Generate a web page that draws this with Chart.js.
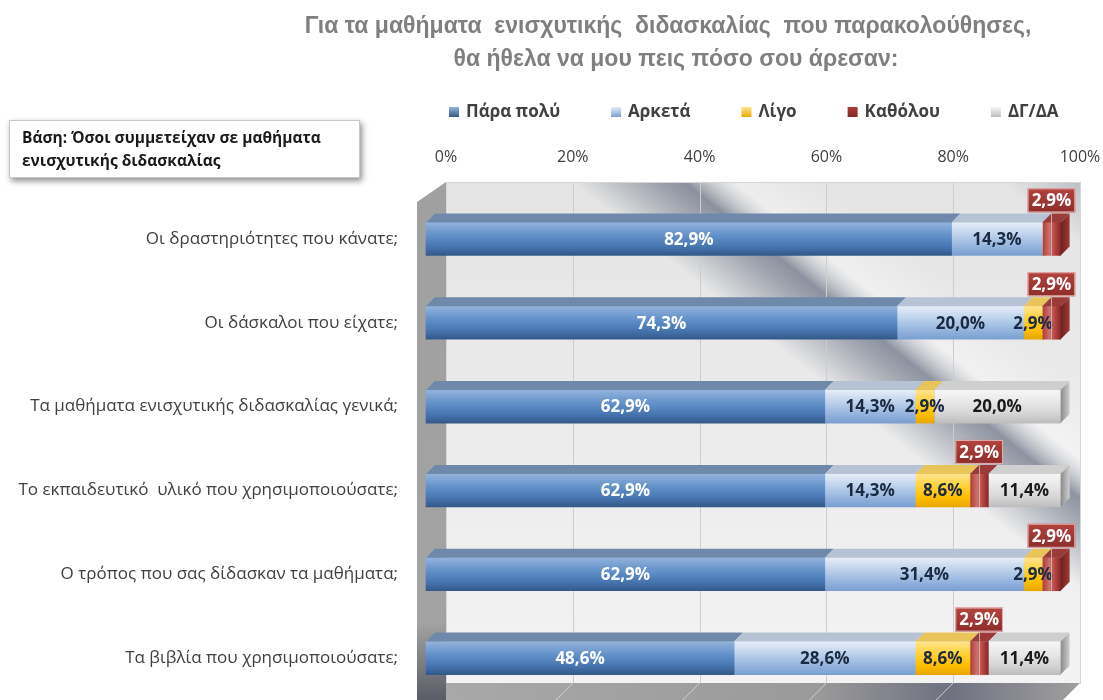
<!DOCTYPE html>
<html><head><meta charset="utf-8">
<script src="https://cdn.jsdelivr.net/npm/chart.js@4.4.1/dist/chart.umd.min.js"></script>
<style>html,body{margin:0;padding:0;background:#fff;}#wrap{position:relative;width:1103px;height:700px;}</style>
</head><body><div id="wrap"><canvas id="c" width="1103" height="700"></canvas></div>
<script>
const categories = [
  'Οι δραστηριότητες που κάνατε;',
  'Οι δάσκαλοι που είχατε;',
  'Τα μαθήματα ενισχυτικής διδασκαλίας γενικά;',
  'Το εκπαιδευτικό  υλικό που χρησιμοποιούσατε;',
  'Ο τρόπος που σας δίδασκαν τα μαθήματα;',
  'Τα βιβλία που χρησιμοποιούσατε;'
];
const seriesNames = ['Πάρα πολύ', 'Αρκετά', 'Λίγο', 'Καθόλου', 'ΔΓ/ΔΑ'];
const veryMuch = [82.9, 74.3, 62.9, 62.9, 62.9, 48.6];
const enough   = [14.3, 20.0, 14.3, 14.3, 31.4, 28.6];
const little   = [0, 2.9, 2.9, 8.6, 2.9, 8.6];
const notAtAll = [2.9, 2.9, 0, 2.9, 2.9, 2.9];
const dkna     = [0, 0, 20.0, 11.4, 0, 11.4];
const xTicks = [0, 20, 40, 60, 80, 100];
const titleLines = ['Για τα μαθήματα  ενισχυτικής  διδασκαλίας  που παρακολούθησες,', 'θα ήθελα να μου πεις πόσο σου άρεσαν:'];
const baseNote = ['Βάση: Όσοι συμμετείχαν σε μαθήματα', 'ενισχυτικής διδασκαλίας'];

const seriesValues = [veryMuch, enough, little, notAtAll, dkna];
const DEPTH = 9;      // bar 3D depth
const WALL = 20;      // back wall offset
const BAR_H = 33;
const FONT = "'Open Sans', 'Noto Sans', sans-serif";

const palettes = [
  {stops:['#93b3dc','#6290c9','#4a78b4','#34598a'], top:'#6f89ab', side:'#3a5f8f', text:'#ffffff'},
  {stops:['#e6eef8','#b9cfea','#97b6df','#7a9fd0'], top:'#b5c3d4', side:'#7a9fd0', text:'#1a2a40'},
  {stops:['#ffe48f','#ffcf33','#ffc000','#e9a800'], top:'#e9c45a', side:'#d09a00', text:'#1a2a40'},
  {stops:['#a83c39','#d2706c','#b5443f','#86282a'], top:'#9c3a37', side:'#6e1f1e', text:'#ffffff'},
  {stops:['#f6f6f6','#e6e6e6','#d6d6d6','#bdbdbd'], top:'#cfcfcf', side:'#8a8a8a', text:'#1a1a1a'}
];

function fmt(v){ return v.toFixed(1).replace('.', ',') + '%'; }

function makeBg(si){
  return function(ctx){
    const fallback = palettes[si].stops[2];
    const chart = ctx.chart;
    const ys = chart.scales && chart.scales.y, xs = chart.scales && chart.scales.x;
    if (!ys || !xs || typeof ctx.dataIndex !== 'number') return fallback;
    const yc = ys.getPixelForValue(ctx.dataIndex);
    if (!isFinite(yc)) return fallback;
    const c = chart.ctx;
    let g;
    if (si === 3) {
      let start = 0;
      for (let k = 0; k < si; k++) start += seriesValues[k][ctx.dataIndex];
      const x0 = xs.getPixelForValue(start), x1 = xs.getPixelForValue(start + seriesValues[si][ctx.dataIndex]);
      if (!isFinite(x0) || !isFinite(x1)) return fallback;
      g = c.createLinearGradient(x0, 0, x1 + 0.01, 0);
    } else {
      g = c.createLinearGradient(0, yc - BAR_H/2, 0, yc + BAR_H/2);
    }
    const s = palettes[si].stops;
    g.addColorStop(0, s[0]); g.addColorStop(0.4, s[1]); g.addColorStop(0.7, s[2]); g.addColorStop(1, s[3]);
    return g;
  };
}

const decor = {
  id: 'decor',
  beforeDatasetsDraw(chart){
    const c = chart.ctx, xs = chart.scales.x;
    const bx0 = xs.getPixelForValue(0) + WALL, bx1 = xs.getPixelForValue(100) + WALL;
    const by0 = 182, by1 = 683;
    c.save();
    let g = c.createLinearGradient(bx0, by0, bx0, by1);
    g.addColorStop(0, '#e4e4e4'); g.addColorStop(1, '#f3f3f3');
    c.fillStyle = g; c.fillRect(bx0, by0, bx1 - bx0, by1 - by0);
    g = c.createLinearGradient(600, 500, 1000, 0);
    g.addColorStop(0, 'rgba(90,100,120,0)');
    g.addColorStop(0.36, 'rgba(90,100,120,0)');
    g.addColorStop(0.44, 'rgba(90,100,120,0.5)');
    g.addColorStop(0.47, 'rgba(90,100,120,0.65)');
    g.addColorStop(0.52, 'rgba(255,255,255,0.35)');
    g.addColorStop(0.6, 'rgba(255,255,255,0)');
    g.addColorStop(0.78, 'rgba(90,100,120,0)');
    g.addColorStop(0.86, 'rgba(90,100,120,0.3)');
    g.addColorStop(0.95, 'rgba(90,100,120,0)');
    c.fillStyle = g; c.fillRect(bx0, by0, bx1 - bx0, by1 - by0);
    c.strokeStyle = '#cdcdcd'; c.lineWidth = 1;
    xTicks.forEach(v => {
      if (v === 0) return;
      const x = Math.round(xs.getPixelForValue(v) + WALL) + 0.5;
      c.beginPath(); c.moveTo(x, by0); c.lineTo(x, by1); c.stroke();
    });
    c.strokeStyle = '#d6d6d6';
    c.strokeRect(bx0 + 0.5, by0 + 0.5, bx1 - bx0, by1 - by0);
    const fx0 = xs.getPixelForValue(0), fx1 = xs.getPixelForValue(100);
    g = c.createLinearGradient(fx0, 0, fx1 + WALL, 0);
    g.addColorStop(0, '#a9a9a9'); g.addColorStop(0.6, '#9a9a9a'); g.addColorStop(0.8, '#6f7180'); g.addColorStop(1, '#a0a0a0');
    c.fillStyle = g;
    c.beginPath(); c.moveTo(bx0, by1); c.lineTo(bx1, by1); c.lineTo(fx1, by1 + WALL); c.lineTo(fx0, by1 + WALL); c.closePath(); c.fill();
    c.strokeStyle = '#d0d0d0';
    xTicks.forEach(v => {
      const x = xs.getPixelForValue(v);
      c.beginPath(); c.moveTo(x + WALL, by1); c.lineTo(x, by1 + WALL); c.stroke();
    });
    g = c.createLinearGradient(0, by0, 0, 700);
    g.addColorStop(0, '#a0a0a0'); g.addColorStop(0.85, '#a3a3a3'); g.addColorStop(1, '#5a5c66');
    c.fillStyle = g;
    c.beginPath(); c.moveTo(417, by0 + WALL); c.lineTo(bx0, by0); c.lineTo(bx0, 700); c.lineTo(417, 700); c.closePath(); c.fill();
    c.restore();
  },
  afterDatasetsDraw(chart){
    const c = chart.ctx;
    c.save();
    const n = categories.length;
    for (let i = 0; i < n; i++) {
      let lastEl = null, lastSi = -1;
      for (let si = 0; si < seriesValues.length; si++) {
        if (!seriesValues[si][i]) continue;
        const el = chart.getDatasetMeta(si).data[i];
        const {x, base, y} = el.getProps(['x','base','y'], true);
        const top = y - BAR_H/2;
        c.fillStyle = palettes[si].top;
        c.beginPath(); c.moveTo(base, top); c.lineTo(base + DEPTH, top - DEPTH); c.lineTo(x + DEPTH, top - DEPTH); c.lineTo(x, top); c.closePath(); c.fill();
        lastEl = el; lastSi = si;
      }
      if (lastEl) {
        const {x, y} = lastEl.getProps(['x','y'], true);
        const top = y - BAR_H/2, bot = y + BAR_H/2;
        const g = c.createLinearGradient(x, 0, x + DEPTH, 0);
        g.addColorStop(0, palettes[lastSi].side); g.addColorStop(1, palettes[lastSi].top);
        c.fillStyle = g;
        c.beginPath(); c.moveTo(x, top); c.lineTo(x + DEPTH, top - DEPTH); c.lineTo(x + DEPTH, bot - DEPTH); c.lineTo(x, bot); c.closePath(); c.fill();
      }
    }
    c.font = "bold 17px " + FONT;
    c.textAlign = 'center'; c.textBaseline = 'middle';
    for (let si = 0; si < seriesValues.length; si++) {
      const meta = chart.getDatasetMeta(si);
      for (let i = 0; i < n; i++) {
        const v = seriesValues[si][i];
        if (!v) continue;
        const {x, base, y} = meta.data[i].getProps(['x','base','y'], true);
        const cx = (x + base) / 2;
        const txt = fmt(v);
        if (si === 3) {
          const w = c.measureText(txt).width + 8, h = 24;
          const bx = cx - w/2, bb = y - BAR_H/2 - DEPTH - 1, bt = bb - h;
          c.strokeStyle = 'rgba(190,190,190,0.9)'; c.lineWidth = 1;
          c.beginPath(); c.moveTo(Math.round(cx) + 0.5, bb); c.lineTo(Math.round(cx) + 0.5, y + BAR_H/2); c.stroke();
          const g = c.createLinearGradient(0, bt, 0, bb);
          g.addColorStop(0, '#b4433f'); g.addColorStop(1, '#8e2c2a');
          c.fillStyle = g; c.fillRect(bx, bt, w, h);
          c.strokeStyle = '#e3b3b1'; c.strokeRect(bx + 0.5, bt + 0.5, w - 1, h - 1);
          c.fillStyle = '#ffffff';
          c.fillText(txt, cx, bt + h/2 + 1);
        } else {
          c.fillStyle = palettes[si].text;
          c.fillText(txt, cx, y + 1);
        }
      }
    }
    c.restore();
  },
  afterDraw(chart){
    const c = chart.ctx;
    c.save();
    c.fillStyle = '#7f7f7f';
    c.font = "bold 23px 'Liberation Sans Narrow', 'Liberation Sans', sans-serif";
    c.textAlign = 'center'; c.textBaseline = 'middle';
    c.fillText(titleLines[0], 668, 27);
    c.fillText(titleLines[1], 676, 60);
    c.font = "bold 17px " + FONT;
    c.textAlign = 'left';
    let lx = 449;
    seriesNames.forEach((name, si) => {
      const g = c.createLinearGradient(0, 107, 0, 117);
      const s = palettes[si].stops;
      g.addColorStop(0, s[0]); g.addColorStop(1, s[3]);
      c.fillStyle = g; c.fillRect(lx, 107, 10, 10);
      c.fillStyle = '#404040';
      c.fillText(name, lx + 17, 112);
      lx += 17 + c.measureText(name).width + 51;
    });
    c.shadowColor = 'rgba(0,0,0,0.45)'; c.shadowBlur = 6; c.shadowOffsetX = 2; c.shadowOffsetY = 3;
    c.fillStyle = '#ffffff';
    c.fillRect(9, 120, 351, 58);
    c.shadowColor = 'transparent';
    c.strokeStyle = '#c8c8c8'; c.lineWidth = 1;
    c.strokeRect(9.5, 120.5, 350, 57);
    c.fillStyle = '#1a1a1a';
    c.font = "bold 15.5px " + FONT;
    c.fillText(baseNote[0], 22, 139);
    c.fillText(baseNote[1], 22, 162);
    c.restore();
  }
};

const datasets = seriesNames.map((name, si) => ({
  label: name,
  data: seriesValues[si],
  backgroundColor: makeBg(si),
  borderWidth: 0,
  barThickness: BAR_H,
  clip: false
}));

new Chart(document.getElementById('c'), {
  type: 'bar',
  data: { labels: categories, datasets },
  options: {
    indexAxis: 'y',
    responsive: false,
    animation: false,
    layout: { padding: { left: 0, right: 43, top: 0, bottom: 0 } },
    plugins: { legend: { display: false }, title: { display: false }, tooltip: { enabled: false } },
    scales: {
      x: {
        position: 'top', stacked: true, min: 0, max: 100,
        afterBuildTicks: s => { s.ticks = xTicks.map(v => ({ value: v })); },
        afterFit: s => { s.height = 197; s.paddingLeft = 0; s.paddingRight = 0; },
        grid: { display: false, drawTicks: false },
        border: { display: false },
        ticks: { padding: 30, labelOffset: WALL, color: '#404040', font: { family: FONT, size: 16 }, callback: v => v + '%' }
      },
      y: {
        stacked: true,
        afterFit: s => { s.width = 426; s.paddingTop = 0; s.paddingBottom = 0; },
        grid: { display: false, drawTicks: false },
        border: { display: false },
        ticks: { padding: 28, color: '#404040', font: { family: FONT, size: 17 } }
      }
    }
  },
  plugins: [decor]
});
</script>
</body></html>
